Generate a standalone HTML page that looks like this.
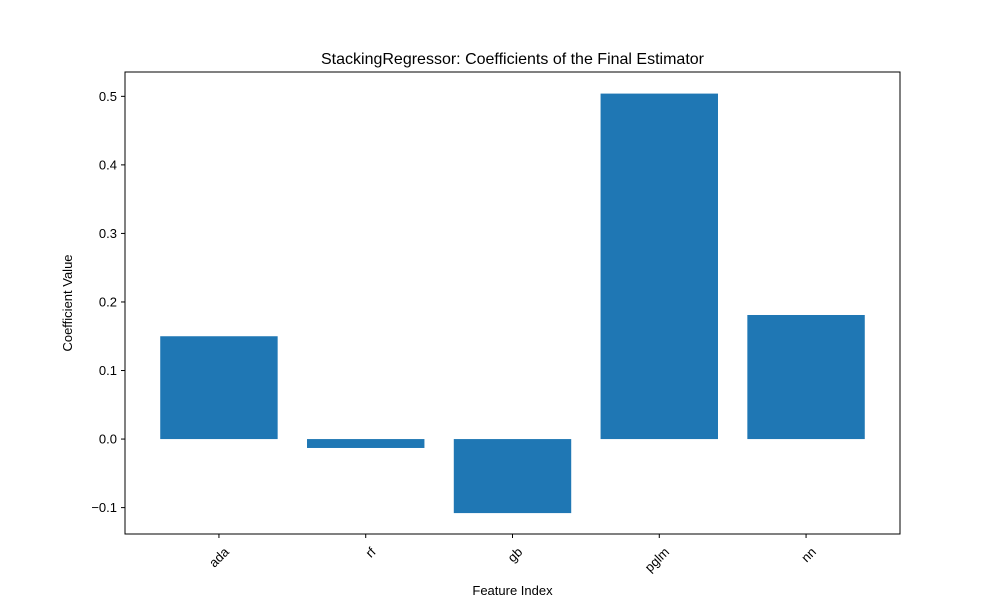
<!DOCTYPE html>
<html><head><meta charset="utf-8"><style>
body{margin:0;background:#fff;}
svg{display:block;font-family:"Liberation Sans","DejaVu Sans",sans-serif;}
</style></head><body>
<svg id="chart" width="1000" height="600" viewBox="0 0 1000 600">
<rect width="1000" height="600" fill="#fff"/>
<text x="512.5" y="64" text-anchor="middle" font-size="16" fill="#000">StackingRegressor: Coefficients of the Final Estimator</text>
<g id="bars"></g>
<g id="yticks"></g>
<g id="xticks"></g>
<rect x="125" y="72" width="775" height="462" fill="none" stroke="#000" stroke-width="1"/>
<text x="512.5" y="595" text-anchor="middle" font-size="13">Feature Index</text>
<text transform="translate(72,303) rotate(-90)" text-anchor="middle" font-size="13">Coefficient Value</text>
</svg>
<script>
const categories = ["ada","rf","gb","pglm","nn"];
const values = [0.150, -0.013, -0.108, 0.504, 0.181];
const yTicks = [-0.1, 0.0, 0.1, 0.2, 0.3, 0.4, 0.5];
const yTickLabels = ["\u22120.1","0.0","0.1","0.2","0.3","0.4","0.5"];

const L=125,R=900,T=72,B=534;
const xMin=-0.64,xMax=4.64,yMin=-0.1385,yMax=0.5355;
const xs=v=>L+(v-xMin)/(xMax-xMin)*(R-L);
const ys=v=>B-(v-yMin)/(yMax-yMin)*(B-T);
const NS="http://www.w3.org/2000/svg";
const gb=document.getElementById('bars'), gy=document.getElementById('yticks'), gx=document.getElementById('xticks');
categories.forEach((c,i)=>{
  const x0=xs(i-0.4), x1=xs(i+0.4), y0=ys(0), y1=ys(values[i]);
  const r=document.createElementNS(NS,'rect');
  r.setAttribute('x',x0); r.setAttribute('width',x1-x0);
  r.setAttribute('y',Math.min(y0,y1)); r.setAttribute('height',Math.abs(y1-y0));
  r.setAttribute('fill','#1f77b4');
  
  
  gb.appendChild(r);
  const cx=xs(i);
  const t=document.createElementNS(NS,'line');
  t.setAttribute('x1',cx);t.setAttribute('x2',cx);t.setAttribute('y1',B);t.setAttribute('y2',B+4);
  t.setAttribute('stroke','#000');
  
  
  gx.appendChild(t);
  const tx=document.createElementNS(NS,'text');
  tx.setAttribute('transform','translate('+(cx+4)+','+(B+12)+') rotate(-45)');
  tx.setAttribute('text-anchor','end');tx.setAttribute('font-size','13');
  tx.setAttribute('dominant-baseline','hanging');
  tx.textContent=c;
  
  
  gx.appendChild(tx);
});
yTicks.forEach((v,i)=>{
  const y=ys(v);
  const t=document.createElementNS(NS,'line');
  t.setAttribute('x1',L-4);t.setAttribute('x2',L);t.setAttribute('y1',y);t.setAttribute('y2',y);
  t.setAttribute('stroke','#000');
  
  
  gy.appendChild(t);
  const tx=document.createElementNS(NS,'text');
  tx.setAttribute('x',L-8);tx.setAttribute('y',y+4.5);
  tx.setAttribute('text-anchor','end');tx.setAttribute('font-size','13');
  tx.textContent=yTickLabels[i];
  
  
  gy.appendChild(tx);
});
</script>
</body></html>
